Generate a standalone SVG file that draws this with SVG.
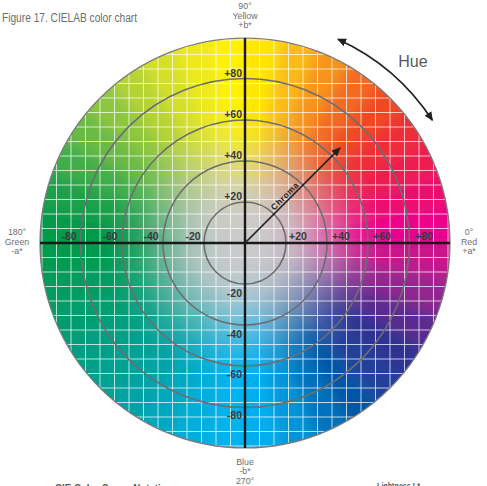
<svg xmlns="http://www.w3.org/2000/svg" width="487" height="486" viewBox="0 0 487 486">
<style>
.cap{font-family:"Liberation Sans",Arial,sans-serif;fill:#6d6e71}
.side{font-family:"Liberation Sans",Arial,sans-serif;font-size:8.8px;fill:#6d6e71;text-anchor:middle}
.num{font-family:"Liberation Sans",Arial,sans-serif;font-size:10.5px;font-weight:bold;fill:#3a3a3c}
.ring{fill:none;stroke:#6d6e71;stroke-width:1.6}
.axis{stroke:#1a1a1a;stroke-width:2.4}
.arr{fill:none;stroke:#231f20;stroke-width:1.7}
</style>
<defs>
<clipPath id="disc"><circle cx="245" cy="243" r="205"/></clipPath>
<filter id="soft" x="-0.2" y="-0.2" width="1.4" height="1.4"><feGaussianBlur stdDeviation="7"/></filter>
<radialGradient id="grey" cx="245" cy="243" r="205" gradientUnits="userSpaceOnUse">
<stop offset="0" stop-color="#cbcbcc" stop-opacity="1"/>
<stop offset="0.12" stop-color="#cbcbcc" stop-opacity="0.97"/>
<stop offset="0.25" stop-color="#cbcbcc" stop-opacity="0.85"/>
<stop offset="0.4" stop-color="#cbcbcc" stop-opacity="0.5"/>
<stop offset="0.55" stop-color="#cbcbcc" stop-opacity="0.14"/>
<stop offset="0.68" stop-color="#cbcbcc" stop-opacity="0"/>
</radialGradient>
<marker id="ah" viewBox="0 0 10 10" refX="9" refY="5" markerWidth="9" markerHeight="9" markerUnits="userSpaceOnUse" orient="auto-start-reverse"><path d="M0,0.5 L10,5 L0,9.5 z" fill="#231f20"/></marker>
</defs>

<g id="title"><text class="cap" x="2" y="22" font-size="12" textLength="135" lengthAdjust="spacingAndGlyphs">Figure 17. CIELAB color chart</text></g>

<g id="colorwheel" clip-path="url(#disc)">
<g filter="url(#soft)">
<path d="M245 243L505 243L501 197.9Z" fill="#ec008c"/>
<path d="M245 243L501 197.9L489.3 154.1Z" fill="#ec0a6e"/>
<path d="M245 243L489.3 154.1L470.2 113Z" fill="#ed1c4f"/>
<path d="M245 243L470.2 113L444.2 75.9Z" fill="#ee2d36"/>
<path d="M245 243L444.2 75.9L412.1 43.8Z" fill="#f04a24"/>
<path d="M245 243L412.1 43.8L375 17.8Z" fill="#f36b21"/>
<path d="M245 243L375 17.8L333.9 -1.3Z" fill="#f7941d"/>
<path d="M245 243L333.9 -1.3L290.1 -13Z" fill="#fdbb12"/>
<path d="M245 243L290.1 -13L245 -17Z" fill="#ffe600"/>
<path d="M245 243L245 -17L199.9 -13Z" fill="#fff200"/>
<path d="M245 243L199.9 -13L156.1 -1.3Z" fill="#ede91c"/>
<path d="M245 243L156.1 -1.3L115 17.8Z" fill="#d4df2a"/>
<path d="M245 243L115 17.8L77.9 43.8Z" fill="#b5d334"/>
<path d="M245 243L77.9 43.8L45.8 75.9Z" fill="#8dc63f"/>
<path d="M245 243L45.8 75.9L19.8 113Z" fill="#6bba44"/>
<path d="M245 243L19.8 113L0.7 154.1Z" fill="#3fae49"/>
<path d="M245 243L0.7 154.1L-11 197.9Z" fill="#1ba04a"/>
<path d="M245 243L-11 197.9L-15 243Z" fill="#009a48"/>
<path d="M245 243L-15 243L-11 288.1Z" fill="#009a50"/>
<path d="M245 243L-11 288.1L0.7 331.9Z" fill="#009b5e"/>
<path d="M245 243L0.7 331.9L19.8 373Z" fill="#009c70"/>
<path d="M245 243L19.8 373L45.8 410.1Z" fill="#009e82"/>
<path d="M245 243L45.8 410.1L77.9 442.2Z" fill="#00a093"/>
<path d="M245 243L77.9 442.2L115 468.2Z" fill="#00a3a6"/>
<path d="M245 243L115 468.2L156.1 487.3Z" fill="#00a8bf"/>
<path d="M245 243L156.1 487.3L199.9 499Z" fill="#00aedb"/>
<path d="M245 243L199.9 499L245 503Z" fill="#00b2ee"/>
<path d="M245 243L245 503L290.1 499Z" fill="#00aeef"/>
<path d="M245 243L290.1 499L333.9 487.3Z" fill="#0095da"/>
<path d="M245 243L333.9 487.3L375 468.2Z" fill="#0072bc"/>
<path d="M245 243L375 468.2L412.1 442.2Z" fill="#0054a6"/>
<path d="M245 243L412.1 442.2L444.2 410.1Z" fill="#21409a"/>
<path d="M245 243L444.2 410.1L470.2 373Z" fill="#2e3192"/>
<path d="M245 243L470.2 373L489.3 331.9Z" fill="#5b2c8f"/>
<path d="M245 243L489.3 331.9L501 288.1Z" fill="#92278f"/>
<path d="M245 243L501 288.1L505 243Z" fill="#c7168c"/>
</g>
<circle cx="245" cy="243" r="205" fill="url(#grey)"/>
<path stroke="#ffffff" stroke-opacity="0.72" stroke-width="1" fill="none" d="M259.5 30V456M274 30V456M288.5 30V456M303 30V456M317.5 30V456M332 30V456M346.5 30V456M361 30V456M375.5 30V456M390 30V456M404.5 30V456M419 30V456M433.5 30V456M448 30V456M230.5 30V456M216 30V456M201.5 30V456M187 30V456M172.5 30V456M158 30V456M143.5 30V456M129 30V456M114.5 30V456M100 30V456M85.5 30V456M71 30V456M56.5 30V456M42 30V456M30 257.5H460M30 272H460M30 286.5H460M30 301H460M30 315.5H460M30 330H460M30 344.5H460M30 359H460M30 373.5H460M30 388H460M30 402.5H460M30 417H460M30 431.5H460M30 446H460M30 228.5H460M30 214H460M30 199.5H460M30 185H460M30 170.5H460M30 156H460M30 141.5H460M30 127H460M30 112.5H460M30 98H460M30 83.5H460M30 69H460M30 54.5H460M30 40H460"/>
</g>

<g id="rings">
<circle class="ring" cx="245" cy="243" r="41"/>
<circle class="ring" cx="245" cy="243" r="82"/>
<circle class="ring" cx="245" cy="243" r="123"/>
<circle class="ring" cx="245" cy="243" r="164.5"/>
<circle cx="245" cy="243" r="205" fill="none" stroke="#7a7a7c" stroke-width="1.2"/>
</g>

<g id="axes">
<line class="axis" x1="40" y1="243" x2="450" y2="243"/>
<line class="axis" x1="245" y1="38" x2="245" y2="448"/>
</g>

<g id="axis-labels">
<text class="num" x="69" y="240" text-anchor="middle">-80</text>
<text class="num" x="110" y="240" text-anchor="middle">-60</text>
<text class="num" x="151" y="240" text-anchor="middle">-40</text>
<text class="num" x="193" y="240" text-anchor="middle">-20</text>
<text class="num" x="298" y="240" text-anchor="middle">+20</text>
<text class="num" x="341" y="240" text-anchor="middle">+40</text>
<text class="num" x="382" y="240" text-anchor="middle">+60</text>
<text class="num" x="424" y="240" text-anchor="middle">+80</text>
<text class="num" x="242" y="77" text-anchor="end">+80</text>
<text class="num" x="242" y="118" text-anchor="end">+60</text>
<text class="num" x="242" y="159" text-anchor="end">+40</text>
<text class="num" x="242" y="200" text-anchor="end">+20</text>
<text class="num" x="242" y="297" text-anchor="end">-20</text>
<text class="num" x="242" y="338" text-anchor="end">-40</text>
<text class="num" x="242" y="378" text-anchor="end">-60</text>
<text class="num" x="242" y="419" text-anchor="end">-80</text>
</g>

<g id="pole-yellow"><text class="side" x="245" y="8.5">90°</text><text class="side" x="245" y="18.5">Yellow</text><text class="side" x="245" y="28">+b*</text></g>
<g id="pole-green"><text class="side" x="17" y="234.5">180°</text><text class="side" x="17" y="244.5">Green</text><text class="side" x="17" y="254">-a*</text></g>
<g id="pole-red"><text class="side" x="469" y="234.5">0°</text><text class="side" x="469" y="244.5">Red</text><text class="side" x="469" y="254">+a*</text></g>
<g id="pole-blue"><text class="side" x="245" y="464.5">Blue</text><text class="side" x="245" y="474">-b*</text><text class="side" x="245" y="484">270°</text></g>

<g id="connectors">
<line class="arr" x1="245" y1="243" x2="340" y2="148" marker-end="url(#ah)"/>
<path class="arr" d="M337.9 39.2A224 224 0 0 1 432.4 120.3" marker-start="url(#ah)" marker-end="url(#ah)"/>
</g>

<g id="chroma-label"><text transform="translate(287,198) rotate(-45)" text-anchor="middle" font-family="Liberation Sans, Arial, sans-serif" font-size="8.5" font-weight="bold" letter-spacing="0.6" fill="#231f20">Chroma</text></g>
<g id="hue-label"><text x="413" y="67" text-anchor="middle" font-family="Liberation Sans, Arial, sans-serif" font-size="16" fill="#58595b">Hue</text></g>

<g id="footer">
<text x="55" y="492" font-family="Liberation Sans, Arial, sans-serif" font-size="11" font-weight="bold" fill="#58595b" textLength="123" lengthAdjust="spacingAndGlyphs">CIE Color Space Notations</text>
<text x="377" y="489" font-family="Liberation Sans, Arial, sans-serif" font-size="9" font-weight="bold" fill="#58595b" textLength="43" lengthAdjust="spacingAndGlyphs">Lightness L*</text>
</g>
</svg>
